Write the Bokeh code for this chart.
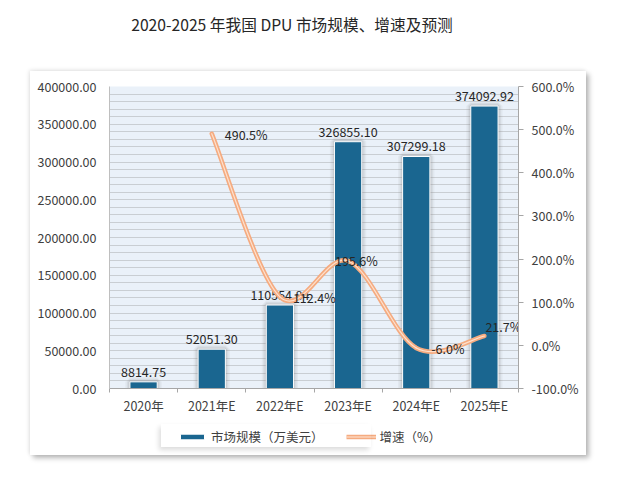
from bokeh.plotting import figure
from bokeh.layouts import column
from bokeh.models import (ColumnDataSource, Range1d, LinearAxis, FixedTicker,
                          SingleIntervalTicker, PrintfTickFormatter, Legend,
                          LegendItem, InlineStyleSheet)
from bokeh.core.properties import value
from bokeh.embed import file_html
from bokeh.resources import INLINE

# ---------------- data ----------------
categories = ["2020年", "2021年E", "2022年E", "2023年E", "2024年E", "2025年E"]
market_size = [8814.75, 52051.30, 110554.84, 326855.10, 307299.18, 374092.92]
growth_years = ["2021年E", "2022年E", "2023年E", "2024年E", "2025年E"]
growth_rate = [490.5, 112.4, 195.6, -6.0, 21.7]
title_text = "2020-2025 年我国 DPU 市场规模、增速及预测"
bar_name = "市场规模（万美元）"
line_name = "增速（%）"

# ---------------- style ----------------
FONT = "Noto Sans CJK SC"
BAR = "#1a6690"
LINE_OUT = "#f5ab80"
LINE_IN = "#fde0cc"
TXT = "#262626"
AX_TXT = "#404040"
W = 614
FRAME_W = 409  # plot-area width in px (frames are aligned in the column)


def bare(fig):
    fig.outline_line_color = None
    fig.border_fill_color = "white"
    fig.background_fill_color = "white"
    fig.grid.grid_line_color = None
    return fig


xs = [categories.index(c) for c in categories]
gx = [categories.index(y) for y in growth_years]

# ---------------- title strip ----------------
p0 = bare(figure(width=W, height=63, output_backend="svg", toolbar_location=None,
                 x_range=Range1d(0, FRAME_W), y_range=Range1d(0, 63),
                 x_axis_type=None, y_axis_type=None, min_border=0))
p0.text(x=[182.5], y=[39], text=[title_text], text_align="center",
        text_baseline="middle", text_font=value(FONT), text_font_size="15.7px",
        text_color=TXT)

# ---------------- main chart ----------------
p = figure(width=W, height=357, output_backend="svg", toolbar_location=None,
           x_range=Range1d(-0.5, len(categories) - 0.5), y_range=Range1d(0, 400000),
           min_border_left=109, min_border_right=96, min_border_top=23,
           min_border_bottom=32)
p.extra_y_ranges = {"pct": Range1d(-100, 600)}
p.background_fill_color = "#eaf1f9"
p.border_fill_color = "white"
p.outline_line_color = None

xa = p.xaxis[0]
xa.ticker = FixedTicker(ticks=xs, minor_ticks=[i - 0.5 for i in range(len(categories) + 1)])
xa.major_label_overrides = {i: c for i, c in zip(xs, categories)}
xa.major_tick_line_color = None
xa.major_tick_out = 4
xa.minor_tick_in = 0
xa.minor_tick_out = 4
xa.minor_tick_line_color = "#a6a6a6"
xa.axis_line_color = "#a6a6a6"
xa.major_label_standoff = 3

ya = p.yaxis[0]
ya.ticker = SingleIntervalTicker(interval=50000, num_minor_ticks=5)
ya.formatter = PrintfTickFormatter(format="%.2f")
ya.major_tick_line_color = None
ya.minor_tick_line_color = None
ya.axis_line_color = "#bfbfbf"
ya.major_label_standoff = 7

ra = LinearAxis(y_range_name="pct", ticker=SingleIntervalTicker(interval=100),
                formatter=PrintfTickFormatter(format="%.1f%%"))
ra.major_tick_in = 0
ra.major_tick_out = 5
ra.major_tick_line_color = "#a6a6a6"
ra.minor_tick_line_color = None
ra.axis_line_color = "#a6a6a6"
ra.major_label_standoff = 8
p.add_layout(ra, "right")

for ax in (xa, ya, ra):
    ax.major_label_text_font = FONT
    ax.major_label_text_font_size = "12.5px"
    ax.major_label_text_color = AX_TXT

p.xgrid.grid_line_color = None
p.ygrid.grid_line_color = "#c9ced3"
p.ygrid.minor_grid_line_color = "#c9ced3"

# bars
bsrc = ColumnDataSource(dict(x=xs, top=market_size,
                             label=[f"{v:.2f}" for v in market_size]))
for lw, a in ((9, 0.08), (6, 0.12), (3, 0.18)):
    p.vbar(x="x", top="top", width=0.4, source=bsrc, fill_color=None,
           line_color="#808080", line_alpha=a, line_width=lw)
p.vbar(x="x", top="top", width=0.4, source=bsrc, fill_color=BAR,
       line_color="white", line_width=1)
p.text(x="x", y="top", text="label", source=bsrc, text_align="center",
       text_baseline="bottom", y_offset=-5, text_font=value(FONT),
       text_font_size="12.5px", text_color=TXT)

# smooth growth line (Catmull-Rom -> bezier segments)
n = len(gx)
x0, y0, x1, y1, cx0, cy0, cx1, cy1 = ([] for _ in range(8))
for i in range(n - 1):
    pm = max(i - 1, 0)
    pp = min(i + 2, n - 1)
    x0.append(gx[i]); y0.append(growth_rate[i])
    x1.append(gx[i + 1]); y1.append(growth_rate[i + 1])
    cx0.append(gx[i] + (gx[i + 1] - gx[pm]) / 6)
    cy0.append(growth_rate[i] + (growth_rate[i + 1] - growth_rate[pm]) / 6)
    cx1.append(gx[i + 1] - (gx[pp] - gx[i]) / 6)
    cy1.append(growth_rate[i + 1] - (growth_rate[pp] - growth_rate[i]) / 6)
lsrc = ColumnDataSource(dict(x0=x0, y0=y0, x1=x1, y1=y1, cx0=cx0, cy0=cy0,
                             cx1=cx1, cy1=cy1))
for col_, lw in ((LINE_OUT, 4.5), (LINE_IN, 1.2)):
    p.bezier(x0="x0", y0="y0", x1="x1", y1="y1", cx0="cx0", cy0="cy0",
             cx1="cx1", cy1="cy1", source=lsrc, y_range_name="pct",
             line_color=col_, line_width=lw, line_cap="round")

label_dx = [13, 13, -13, 15, 1]
label_dy = [1, 1, 0, 1, -9]
gsrc = ColumnDataSource(dict(x=gx, y=growth_rate,
                             label=[f"{g:.1f}%" for g in growth_rate],
                             dx=label_dx, dy=label_dy))
p.text(x="x", y="y", text="label", source=gsrc, y_range_name="pct",
       x_offset="dx", y_offset="dy", text_align="left", text_baseline="middle",
       text_font=value(FONT), text_font_size="12.5px", text_color=TXT)

# ---------------- legend strip (hidden proxy renderers carry the swatches) ----
p2 = bare(figure(width=W, height=60, output_backend="svg", toolbar_location=None,
                 x_range=Range1d(0, 1), y_range=Range1d(0, 1),
                 x_axis_type=None, y_axis_type=None, min_border=0))
lg_bar = p2.vbar(x=xs, top=market_size, width=0.4, fill_color=BAR,
                 line_color="white", visible=False)
lg_out = p2.line(x=gx, y=growth_rate, line_color=LINE_OUT, line_width=4.5,
                 visible=False)
lg_in = p2.line(x=gx, y=growth_rate, line_color=LINE_IN, line_width=1.2,
                visible=False)
legend = Legend(items=[LegendItem(label=bar_name, renderers=[lg_bar]),
                       LegendItem(label=line_name, renderers=[lg_out, lg_in])],
                location=(68, 34), orientation="horizontal",
                background_fill_color="white", background_fill_alpha=1,
                border_line_color=None, padding=4, spacing=22, margin=0,
                glyph_width=30, glyph_height=7, label_standoff=4,
                inactive_fill_alpha=0,
                label_text_font=FONT, label_text_font_size="12.5px",
                label_text_color=AX_TXT, label_height=14)
p2.add_layout(legend)

layout = column(p0, p, p2)
layout.stylesheets = [InlineStyleSheet(css="""
:host::after {content:''; position:absolute; left:30px; top:71px; width:556px;
  height:384px; box-shadow: 3px 3px 5px rgba(0,0,0,0.28), -1px -1px 4px rgba(0,0,0,0.10);
  pointer-events:none; z-index:10;}
:host::before {content:''; position:absolute; left:161px; top:424px; width:210px;
  height:23px; box-shadow: -2px 3px 5px rgba(0,0,0,0.14); pointer-events:none;
  z-index:10;}
""")]

open("out.html", "w").write(file_html(layout, INLINE))
